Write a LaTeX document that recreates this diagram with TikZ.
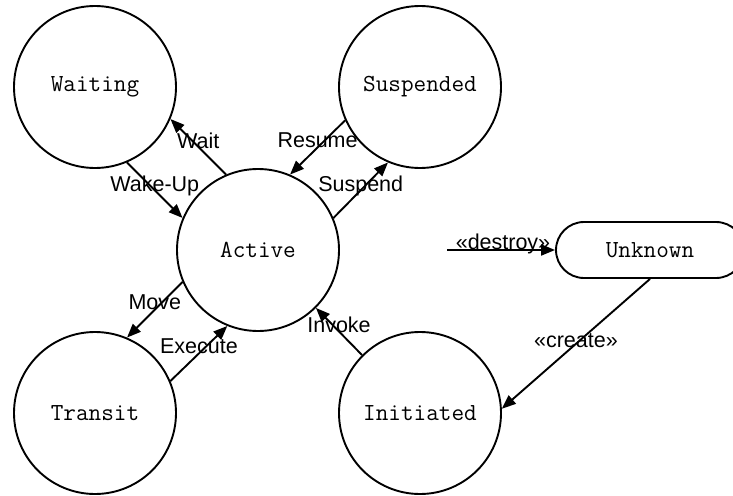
\documentclass[tikz,border=0pt]{standalone}
\usepackage{fontspec}
\setmainfont{Liberation Sans}
\usetikzlibrary{arrows.meta,shapes.misc}
\begin{document}
\begin{tikzpicture}[x=1pt,y=-1pt,
  state/.style={circle,draw,line width=1.9pt,minimum size=162pt,inner sep=0pt,
    font=\ttfamily\fontsize{24.5}{28}\selectfont},
  rstate/.style={rounded rectangle,draw,line width=1.9pt,minimum width=188pt,minimum height=56pt,inner sep=0pt,
    font=\ttfamily\fontsize{24.5}{28}\selectfont},
  tr/.style={line width=1.9pt,-{Triangle[length=14pt,width=11pt]}},
  lbl/.style={font=\fontsize{21.5}{25}\selectfont,inner sep=0pt}]
\useasboundingbox (0,0) rectangle (733,495);
\node[state] (waiting) at (95,87) {Waiting};
\node[state] (suspended) at (420,87) {Suspended};
\node[state] (active) at (258,250) {Active};
\node[state] (transit) at (95,413) {Transit};
\node[state] (initiated) at (420,413) {Initiated};
\node[rstate] (unknown) at (650,250) {Unknown};
\coordinate (dstart) at (447,250);

\draw[tr] (active.113) -- node[lbl,midway,yshift=6pt] (lwait) {Wait} (waiting.-23);
\draw[tr] (waiting.-67) -- node[lbl,midway,yshift=4.5pt] (lwake) {Wake-Up} (active.157);
\draw[tr] (suspended.-156) -- node[lbl,midway,yshift=7pt] (lresume) {Resume} (active.67);
\draw[tr] (active.23) -- node[lbl,midway,yshift=4.5pt] (lsuspend) {Suspend} (suspended.-113);
\draw[tr] (active.-157) -- node[lbl,midway,yshift=7.5pt] (lmove) {Move} (transit.67);
\draw[tr] (transit.23) -- node[lbl,midway,yshift=7pt] (lexec) {Execute} (active.-112);
\draw[tr] (initiated.135) -- node[lbl,midway,yshift=7pt] (linvoke) {Invoke} (active.-45);
\draw[tr] (dstart) -- (unknown.west);
\node[lbl,anchor=base] (ldestroy) at (503,249) {«destroy»};
\draw[tr] (unknown.south) -- node[lbl,midway,yshift=3.5pt] (lcreate) {«create»} (initiated.3);
\end{tikzpicture}
\end{document}
